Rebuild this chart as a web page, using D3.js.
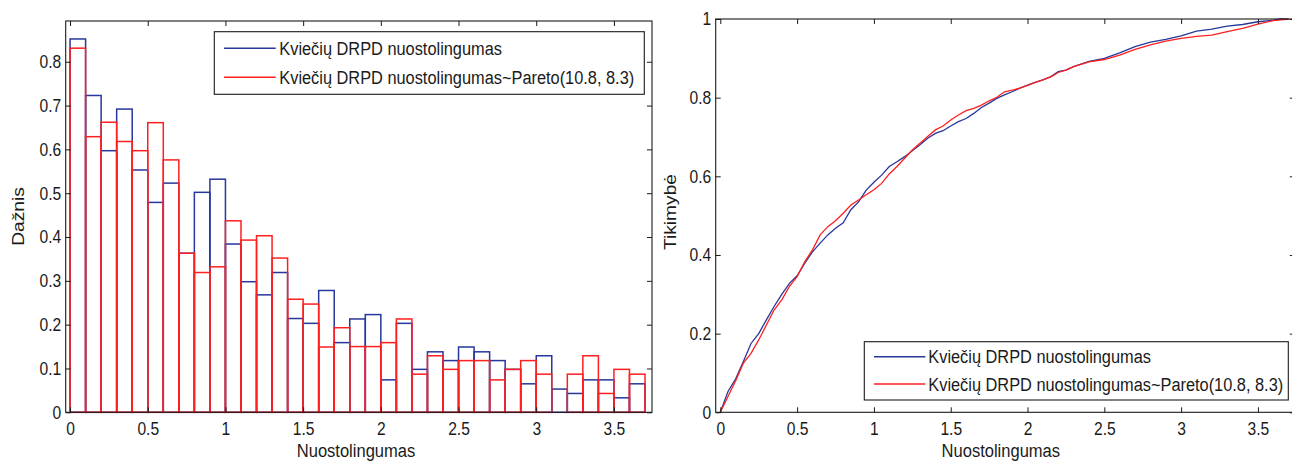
<!DOCTYPE html>
<html>
<head>
<meta charset="utf-8">
<script src="https://cdn.jsdelivr.net/npm/d3@7/dist/d3.min.js"></script>
<style>
  html, body { margin: 0; padding: 0; background: #fff; }
  svg { display: block; }
  text { font-family: "Liberation Sans", Arial, sans-serif; fill: #1a1a1a; }
</style>
</head>
<body>
<svg id="chart" width="1292" height="462"></svg>
<script>
// Histogram bins (left edges and right edges), width 0.1
const binEdges = [0, 0.1, 0.2, 0.3, 0.4, 0.5, 0.6, 0.7, 0.8, 0.9, 1.0, 1.1, 1.2, 1.3, 1.4, 1.5, 1.6, 1.7, 1.8, 1.9,
  2.0, 2.1, 2.2, 2.3, 2.4, 2.5, 2.6, 2.7, 2.8, 2.9, 3.0, 3.1, 3.2, 3.3, 3.4, 3.5, 3.6, 3.7];

// Observed loss ratio frequencies (density)
const observedFreq = [0.852, 0.723, 0.597, 0.692, 0.553, 0.479, 0.523, 0.363, 0.502, 0.532,
  0.384, 0.298, 0.268, 0.319, 0.214, 0.203, 0.278, 0.159, 0.213, 0.223,
  0.074, 0.203, 0.098, 0.138, 0.118, 0.149, 0.138, 0.118, 0.098, 0.065,
  0.129, 0.053, 0.043, 0.074, 0.074, 0.033, 0.065];

// Pareto(10.8, 8.3) simulated frequencies (density)
const paretoFreq = [0.831, 0.629, 0.662, 0.618, 0.597, 0.661, 0.576, 0.363, 0.319, 0.332,
  0.437, 0.393, 0.403, 0.352, 0.258, 0.247, 0.149, 0.193, 0.150, 0.150,
  0.159, 0.213, 0.087, 0.129, 0.098, 0.118, 0.118, 0.074, 0.098, 0.118,
  0.087, 0.000, 0.087, 0.129, 0.043, 0.098, 0.087];

// Cumulative distribution points
const cdfX = [0, 0.05, 0.1, 0.15, 0.2, 0.25, 0.3, 0.35, 0.4, 0.45, 0.5, 0.55, 0.6, 0.65, 0.7, 0.75, 0.8, 0.85, 0.9, 0.95,
  1.0, 1.05, 1.1, 1.15, 1.2, 1.25, 1.3, 1.35, 1.4, 1.45, 1.5, 1.55, 1.6, 1.65, 1.7, 1.75, 1.8, 1.85, 1.9, 1.95,
  2.0, 2.05, 2.1, 2.15, 2.2, 2.25, 2.3, 2.4, 2.5, 2.6, 2.7, 2.8, 2.9, 3.0, 3.1, 3.2, 3.3, 3.4, 3.5, 3.6, 3.65, 3.7];
const observedCdf = [0, 0.053, 0.085, 0.129, 0.175, 0.2, 0.235, 0.269, 0.3, 0.328, 0.347, 0.379, 0.408, 0.43, 0.451, 0.468, 0.482, 0.515, 0.535, 0.565,
  0.585, 0.603, 0.625, 0.637, 0.65, 0.665, 0.68, 0.697, 0.709, 0.716, 0.728, 0.739, 0.747, 0.76, 0.775, 0.786, 0.798, 0.807, 0.815, 0.824,
  0.832, 0.839, 0.845, 0.853, 0.866, 0.87, 0.879, 0.892, 0.9, 0.914, 0.93, 0.941, 0.948, 0.957, 0.969, 0.974, 0.982, 0.986, 0.993, 0.997, 1.0, 1.0];
const paretoCdf = [0, 0.04, 0.08, 0.125, 0.15, 0.184, 0.222, 0.26, 0.286, 0.32, 0.345, 0.383, 0.413, 0.451, 0.472, 0.487, 0.506, 0.527, 0.54, 0.553,
  0.566, 0.582, 0.606, 0.625, 0.646, 0.667, 0.684, 0.701, 0.718, 0.728, 0.743, 0.756, 0.767, 0.773, 0.781, 0.792, 0.801, 0.815, 0.819, 0.824,
  0.831, 0.839, 0.845, 0.853, 0.864, 0.87, 0.879, 0.891, 0.897, 0.908, 0.923, 0.934, 0.944, 0.951, 0.956, 0.959, 0.968, 0.976, 0.987, 0.996, 0.998, 1.0];

// Tick values and labels
const xTicks = [0, 0.5, 1, 1.5, 2, 2.5, 3, 3.5];
const xTickLabels = ["0", "0.5", "1", "1.5", "2", "2.5", "3", "3.5"];
const yTicksHist = [0, 0.1, 0.2, 0.3, 0.4, 0.5, 0.6, 0.7, 0.8];
const yTickLabelsHist = ["0", "0.1", "0.2", "0.3", "0.4", "0.5", "0.6", "0.7", "0.8"];
const yTicksCdf = [0, 0.2, 0.4, 0.6, 0.8, 1];
const yTickLabelsCdf = ["0", "0.2", "0.4", "0.6", "0.8", "1"];

const seriesNames = ["Kviečių DRPD nuostolingumas", "Kviečių DRPD nuostolingumas~Pareto(10.8, 8.3)"];
const xTitle = "Nuostolingumas";
const yTitleHist = "Dažnis";
const yTitleCdf = "Tikimybė";

const BLUE = "#27379b";
const RED = "#ff1f1f";
const INK = "#1a1a1a";
const TICK_SX = 0.84;   // horizontal squeeze of tick labels
const LEG_SX = 0.88;    // horizontal squeeze of legend text

const svg = d3.select("#chart");

function drawAxes(g, x, y, yTicks, yLabels, box) {
  const [x0, x1, y0, y1] = box;
  // bottom
  const bottom = g.append("g").attr("transform", `translate(0,${y1})`)
    .call(d3.axisBottom(x).tickValues(xTicks).tickFormat((d, i) => xTickLabels[i])
      .tickSizeInner(-5).tickSizeOuter(0).tickPadding(9.4));
  bottom.selectAll("text").attr("font-size", 18.6).attr("transform", `scale(${TICK_SX},1)`);
  // top
  g.append("g").attr("transform", `translate(0,${y0})`)
    .call(d3.axisTop(x).tickValues(xTicks).tickFormat("").tickSizeInner(-5).tickSizeOuter(0));
  // left
  const left = g.append("g").attr("transform", `translate(${x0},0)`)
    .call(d3.axisLeft(y).tickValues(yTicks).tickFormat((d, i) => yLabels[i])
      .tickSizeInner(-5).tickSizeOuter(0).tickPadding(0));
  left.selectAll("text").attr("font-size", 18.6).attr("x", -4.5 / TICK_SX)
    .attr("transform", `scale(${TICK_SX},1)`);
  // right
  g.append("g").attr("transform", `translate(${x1},0)`)
    .call(d3.axisRight(y).tickValues(yTicks).tickFormat("").tickSizeInner(-5).tickSizeOuter(0));

  g.selectAll(".domain").remove();
  g.selectAll(".tick line").attr("stroke", INK).attr("stroke-width", 1);
  g.selectAll(".tick text").attr("fill", INK).attr("font-family", "'Liberation Sans', Arial, sans-serif");
  g.append("rect").attr("x", x0).attr("y", y0).attr("width", x1 - x0).attr("height", y1 - y0)
    .attr("fill", "none").attr("stroke", INK).attr("stroke-width", 1.1);
}

function drawLegend(g, box, rows, lineX, textX) {
  const [bx0, by0, bx1, by1] = box;
  g.append("rect").attr("x", bx0).attr("y", by0).attr("width", bx1 - bx0).attr("height", by1 - by0)
    .attr("fill", "#fff").attr("stroke", INK).attr("stroke-width", 1.1);
  [BLUE, RED].forEach((c, i) => {
    g.append("line").attr("x1", lineX[0]).attr("x2", lineX[1]).attr("y1", rows[i]).attr("y2", rows[i])
      .attr("stroke", c).attr("stroke-width", 1.4);
    g.append("text").attr("transform", `translate(${textX},${rows[i] + 6.6}) scale(${LEG_SX},1)`)
      .attr("font-size", 18.6).text(seriesNames[i]);
  });
}

function yTitle(g, label, cx, cy) {
  g.append("text").attr("transform", `translate(${cx},${cy}) rotate(-90) scale(1.17,1)`)
    .attr("text-anchor", "middle").attr("font-size", 16.4).text(label);
}
function xTitleAt(g, cx, baseline) {
  g.append("text").attr("transform", `translate(${cx},${baseline}) scale(${LEG_SX},1)`)
    .attr("text-anchor", "middle").attr("font-size", 18.8).text(xTitle);
}

// ---------- Left panel: histogram ----------
const boxL = [65.7, 652, 21, 412.3];
const xL = d3.scaleLinear().domain([-0.028, 3.745]).range([boxL[0], boxL[1]]);
const yL = d3.scaleLinear().domain([0, 0.893]).range([boxL[3], boxL[2]]);
const gL = svg.append("g");

function bars(values, color) {
  gL.append("g").selectAll("rect").data(values).join("rect")
    .attr("x", (d, i) => xL(binEdges[i]))
    .attr("width", (d, i) => xL(binEdges[i + 1]) - xL(binEdges[i]))
    .attr("y", d => yL(d))
    .attr("height", d => yL(0) - yL(d))
    .attr("fill", "none").attr("stroke", color).attr("stroke-width", 1.5);
}
bars(observedFreq, BLUE);
bars(paretoFreq, RED);
drawAxes(gL, xL, yL, yTicksHist, yTickLabelsHist, boxL);
drawLegend(gL, [214.3, 31.7, 644.3, 94.3], [48.3, 77.3], [224, 275.7], 279.3);
yTitle(gL, yTitleHist, 24, 216.5);
xTitleAt(gL, 356, 457);

// ---------- Right panel: cumulative distribution ----------
const boxR = [715.7, 1294.8, 19, 412.3];
const xR = d3.scaleLinear().domain([-0.03, 3.74]).range([boxR[0], boxR[1]]);
const yR = d3.scaleLinear().domain([0, 1]).range([boxR[3], boxR[2]]);
const gR = svg.append("g");

const line = d3.line().x(d => xR(d[0])).y(d => yR(d[1]));
gR.append("path").datum(cdfX.map((v, i) => [v, observedCdf[i]]))
  .attr("d", line).attr("fill", "none").attr("stroke", BLUE).attr("stroke-width", 1.3);
gR.append("path").datum(cdfX.map((v, i) => [v, paretoCdf[i]]))
  .attr("d", line).attr("fill", "none").attr("stroke", RED).attr("stroke-width", 1.3);

drawAxes(gR, xR, yR, yTicksCdf, yTickLabelsCdf, boxR);
drawLegend(gR, [864.3, 341.7, 1288.3, 400], [356.7, 384], [874, 925.3], 928.3);
yTitle(gR, yTitleCdf, 675.5, 212);
xTitleAt(gR, 1000.8, 456.5);
</script>
</body>
</html>
